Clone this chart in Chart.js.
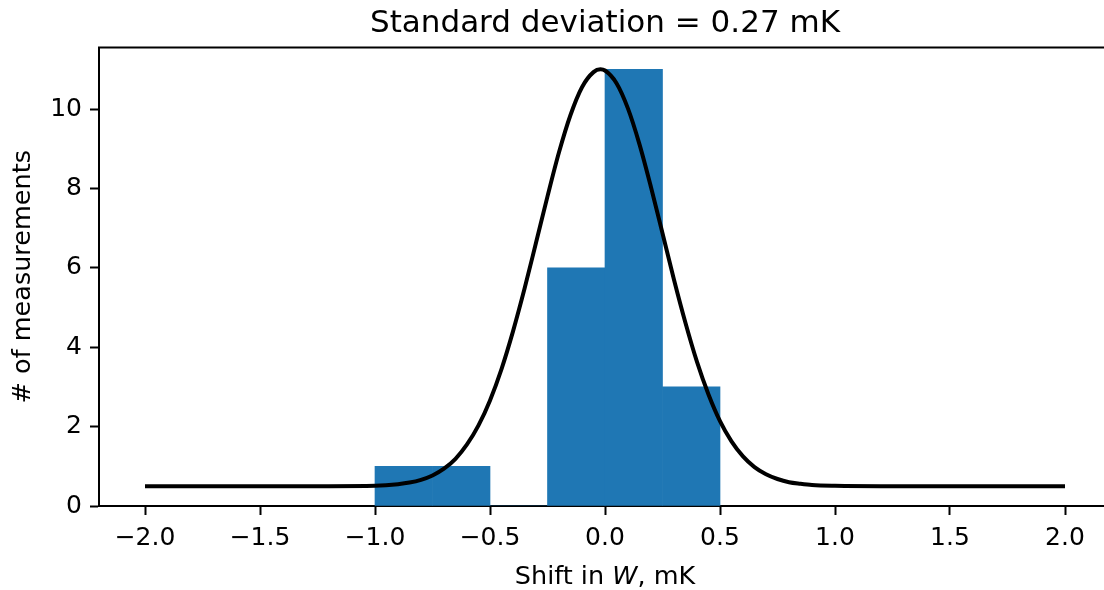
<!DOCTYPE html>
<html>
<head>
<meta charset="utf-8">
<script src="https://cdn.jsdelivr.net/npm/chart.js@4.4.1/dist/chart.umd.min.js"></script>
<style>
  html, body { margin: 0; padding: 0; background: #fff; overflow: hidden; }
  #wrap { width: 1104px; height: 590px; overflow: hidden; }
  canvas { display: block; }
</style>
</head>
<body>
<div id="wrap"><canvas id="c" width="1112" height="590"></canvas></div>
<script>
// ---- data ----
const titleText = "Standard deviation = 0.27 mK";
const yLabelText = "# of measurements";
const binEdges = [-1.0, -0.75, -0.5, -0.25, 0.0, 0.25, 0.5];
const counts = [1, 1, 0, 6, 11, 3];
const fitX = [-2.0, -1.5, -1.2, -1.0, -0.9, -0.85, -0.8, -0.75, -0.7, -0.65, -0.6, -0.55, -0.5, -0.45, -0.4, -0.35, -0.3, -0.25, -0.2, -0.15, -0.1, -0.05, -0.02, 0.0, 0.05, 0.1, 0.15, 0.2, 0.25, 0.3, 0.35, 0.4, 0.45, 0.5, 0.55, 0.6, 0.65, 0.7, 0.75, 0.8, 0.85, 0.9, 1.0, 1.2, 1.5, 2.0];
const fitY = [0.50, 0.50, 0.50, 0.51, 0.55, 0.59, 0.66, 0.77, 0.94, 1.19, 1.55, 2.03, 2.66, 3.45, 4.40, 5.47, 6.63, 7.80, 8.91, 9.85, 10.55, 10.93, 11.00, 10.97, 10.65, 10.01, 9.11, 8.03, 6.87, 5.70, 4.61, 3.63, 2.81, 2.14, 1.63, 1.25, 0.98, 0.80, 0.68, 0.60, 0.56, 0.53, 0.51, 0.50, 0.50, 0.50];
const xTicks = [-2.0, -1.5, -1.0, -0.5, 0.0, 0.5, 1.0, 1.5, 2.0];
const yTicks = [0, 2, 4, 6, 8, 10];

const FONT = '"DejaVu Sans", sans-serif';

const barData = counts.map((c, i) => ({ x: (binEdges[i] + binEdges[i + 1]) / 2, y: c }));
const lineData = fitX.map((x, i) => ({ x: x, y: fitY[i] }));

const decor = {
  id: 'decor',
  afterDraw(chart) {
    const ctx = chart.ctx;
    const a = chart.chartArea;
    ctx.save();
    // top spine
    ctx.strokeStyle = '#000';
    ctx.lineWidth = 2;
    ctx.beginPath();
    ctx.moveTo(a.left - 1, a.top);
    ctx.lineTo(a.right + 1, a.top);
    ctx.stroke();
    const cx = (a.left + a.right) / 2;
    ctx.fillStyle = '#000';
    // title
    ctx.font = '31px ' + FONT;
    ctx.textAlign = 'center';
    ctx.textBaseline = 'alphabetic';
    ctx.fillText(titleText, cx, 32);
    // x label with italic W
    const parts = [["Shift in ", ''], ["W", 'italic '], [", mK", '']];
    ctx.textAlign = 'left';
    let total = 0;
    parts.forEach(p => { ctx.font = p[1] + '25.5px ' + FONT; total += ctx.measureText(p[0]).width; });
    let x = cx - total / 2;
    parts.forEach(p => {
      ctx.font = p[1] + '25.5px ' + FONT;
      ctx.fillText(p[0], x, 584);
      x += ctx.measureText(p[0]).width;
    });
    // y label
    ctx.translate(30, (a.top + a.bottom) / 2);
    ctx.rotate(-Math.PI / 2);
    ctx.font = '25.5px ' + FONT;
    ctx.textAlign = 'center';
    ctx.textBaseline = 'alphabetic';
    ctx.fillText(yLabelText, 0, 0);
    ctx.restore();
  }
};

new Chart(document.getElementById('c'), {
  type: 'bar',
  data: {
    datasets: [
      {
        type: 'line',
        data: lineData,
        borderColor: '#000000',
        borderWidth: 4,
        pointRadius: 0,
        fill: false,
        cubicInterpolationMode: 'monotone',
        order: 0
      },
      {
        type: 'bar',
        data: barData,
        backgroundColor: '#1f77b4',
        borderWidth: 0,
        barPercentage: 1.0,
        categoryPercentage: 1.0,
        order: 1
      }
    ]
  },
  options: {
    responsive: false,
    devicePixelRatio: 1,
    animation: false,
    events: [],
    layout: { padding: { left: 0, right: 1, top: 47.5, bottom: 0 } },
    plugins: { legend: { display: false }, tooltip: { enabled: false }, title: { display: false } },
    scales: {
      x: {
        type: 'linear',
        position: 'bottom',
        min: -2.2,
        max: 2.2,
        offset: false,
        z: 1,
        afterBuildTicks: s => { s.ticks = xTicks.map(v => ({ value: v })); },
        afterFit: s => { s.height = 84; },
        ticks: {
          color: '#000',
          font: { family: FONT, size: 25 },
          padding: 8,
          maxRotation: 0,
          autoSkip: false,
          callback: v => (v < 0 ? '\u2212' : '') + Math.abs(v).toFixed(1)
        },
        grid: { display: true, offset: false, drawOnChartArea: false, drawTicks: true, tickLength: 9, tickWidth: 2, tickColor: '#000' },
        border: { display: true, color: '#000', width: 2 }
      },
      y: {
        type: 'linear',
        position: 'left',
        min: 0,
        max: 11.55,
        z: 1,
        afterBuildTicks: s => { s.ticks = yTicks.map(v => ({ value: v })); },
        afterFit: s => { s.width = 99; },
        ticks: {
          color: '#000',
          font: { family: FONT, size: 25 },
          padding: 8,
          autoSkip: false,
          callback: v => String(v)
        },
        grid: { display: true, offset: false, drawOnChartArea: false, drawTicks: true, tickLength: 9, tickWidth: 2, tickColor: '#000' },
        border: { display: true, color: '#000', width: 2 }
      }
    }
  },
  plugins: [decor]
});
</script>
</body>
</html>
